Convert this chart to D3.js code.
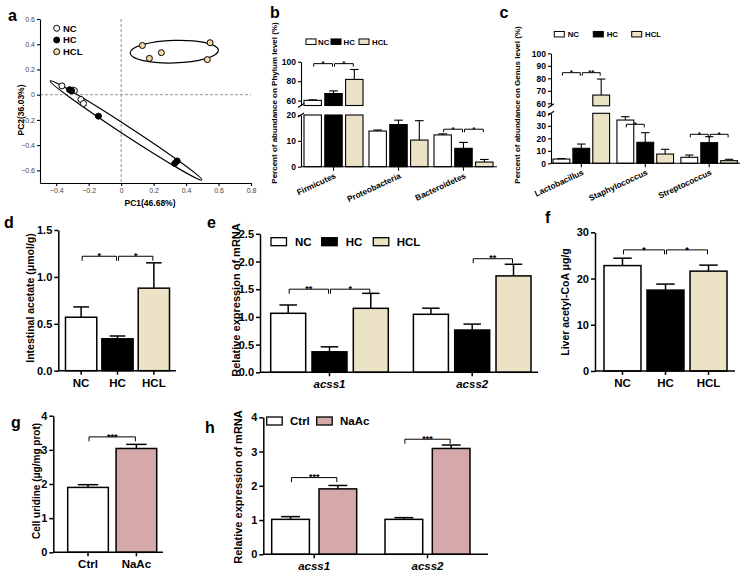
<!DOCTYPE html>
<html><head><meta charset="utf-8">
<script src="https://cdn.jsdelivr.net/npm/d3@7"></script>
<style>
body{margin:0;background:#fff;}
svg{display:block;}
</style></head><body>
<svg id="fig" width="746" height="575"></svg>
<script>
// ================= DATA =================
// Panel a (PCA)
const pcaXTicks = [-0.4, -0.2, 0, 0.2, 0.4, 0.6, 0.8];
const pcaYTicks = [-0.6, -0.4, -0.2, 0, 0.2, 0.4, 0.6];
const pcaNC  = [[-0.365, 0.07], [-0.298, 0.036], [-0.288, 0.032], [-0.248, -0.038], [-0.232, -0.07]];
const pcaHC  = [[-0.318, 0.04], [-0.305, 0.03], [-0.14, -0.17], [0.33, -0.545], [0.345, -0.525]];
const pcaHCL = [[0.131, 0.39], [0.248, 0.333], [0.174, 0.288], [0.548, 0.412], [0.531, 0.278]];
const ellipseNCHC = [[-0.437, 0.109], [0.497, -0.676]];
const ellipseHCL  = [[0.055, 0.33], [0.599, 0.352]];
const pcaLegend = ["NC", "HC", "HCL"];

// shared groups
const groups3 = ["NC", "HC", "HCL"];

// Panel b (phylum)
const phylumCats = ["Firmicutes", "Proteobacteria", "Bacteroidetes"];
const phylumNC = [60.3, 13.8, 12.3];
const phylumNCerr = [0.5, 0.4, 0.4];
const phylumHC = [67.3, 16.3, 7.1];
const phylumHCerr = [2.7, 1.7, 2.3];
const phylumHCL = [81.8, 10.3, 1.8];
const phylumHCLerr = [10.2, 7.5, 1.0];
const phylumTicksLow = [0, 10, 20];
const phylumTicksHigh = [60, 80, 100];

// Panel c (genus)
const genusCats = ["Lactobacillus", "Staphylococcus", "Streptococcus"];
const genusNC = [3.4, 34.6, 4.8];
const genusNCerr = [0.4, 2.7, 1.8];
const genusHC = [12.0, 16.8, 16.5];
const genusHCerr = [3.4, 7.7, 4.8];
const genusHCL = [66.6, 7.4, 2.1];
const genusHCLerr = [12.8, 3.8, 1.1];
const genusTicksLow = [0, 10, 20, 30, 40];
const genusTicksHigh = [60, 70, 80, 90, 100];

// Panel d (intestinal acetate)
const acetate = [0.57, 0.34, 0.88];
const acetateErr = [0.11, 0.03, 0.27];
const acetateTicks = [0, 0.5, 1.0, 1.5];

// Panel e (mRNA)
const geneCats = ["acss1", "acss2"];
const mrnaNC = [1.065, 1.047];
const mrnaNCerr = [0.15, 0.11];
const mrnaHC = [0.37, 0.763];
const mrnaHCerr = [0.09, 0.107];
const mrnaHCL = [1.155, 1.74];
const mrnaHCLerr = [0.27, 0.21];
const mrnaTicks = [0, 0.5, 1.0, 1.5, 2.0, 2.5];

// Panel f (liver acetyl-CoA)
const acetylCoA = [22.8, 17.5, 21.6];
const acetylCoAErr = [1.6, 1.3, 1.3];
const acetylCoATicks = [0, 10, 20, 30];

// Panel g (cell uridine)
const groups2 = ["Ctrl", "NaAc"];
const uridine = [1.9, 3.04];
const uridineErr = [0.08, 0.12];
const uridineTicks = [0, 1, 2, 3, 4];

// Panel h (mRNA, NaAc)
const hCtrl = [1.02, 1.02];
const hCtrlErr = [0.08, 0.05];
const hNaAc = [1.91, 3.09];
const hNaAcErr = [0.1, 0.1];
const hTicks = [0, 1, 2, 3, 4];

// significance
const sigB = [[0, "NC", "HC", 98, "*"], [0, "HC", "HCL", 98, "*"], [2, "NC", "HC", 14.5, "*"], [2, "HC", "HCL", 14.5, "*"]];
const sigC = [[0, "NC", "HC", 84.5, "*"], [0, "HC", "HCL", 84.5, "**"], [1, "NC", "HC", 43.2, "*"], [2, "NC", "HC", 23.2, "*"], [2, "HC", "HCL", 23.2, "*"]];
const sigD = [["NC", "HC", 1.22, "*"], ["HC", "HCL", 1.22, "*"]];
const sigE = [[0, "NC", "HC", 1.5, "**"], [0, "HC", "HCL", 1.5, "*"], [1, "HC", "HCL", 2.05, "**"]];
const sigF = [["NC", "HC", 26.2, "*"], ["HC", "HCL", 26.2, "*"]];
const sigG = [["Ctrl", "NaAc", 3.38, "***"]];
const sigH = [[0, "Ctrl", "NaAc", 2.24, "***"], [1, "Ctrl", "NaAc", 3.36, "***"]];

// ================= DRAWING =================
const FONT = 'Arial, "Liberation Sans", Helvetica, sans-serif';
const TAN = "#ece3c6", PINK = "#d5a9a9", HCLDOT = "#f4d9a6";
const fill3 = {NC: "#fff", HC: "#000", HCL: TAN};
const fill2 = {Ctrl: "#fff", NaAc: PINK};
const svg = d3.select("#fig").attr("font-family", FONT);

function styleAxis(ax, fs, weight, color, sw) {
  ax.attr("font-family", FONT).attr("font-size", fs);
  ax.select(".domain").attr("stroke", "#000").attr("stroke-width", sw || 1.3);
  ax.selectAll(".tick line").attr("stroke", "#000").attr("stroke-width", sw || 1.3);
  ax.selectAll(".tick text").attr("fill", color || "#000").attr("font-weight", weight || "bold");
}
function letter(t, x, y) {
  svg.append("text").attr("x", x).attr("y", y).text(t).attr("fill", "#000")
    .attr("font-size", 16).attr("font-weight", "bold");
}
function yLabel(t, x, y, fs) {
  svg.append("text").attr("transform", `translate(${x},${y}) rotate(-90)`).attr("fill", "#000")
    .attr("text-anchor", "middle").attr("font-size", fs).attr("font-weight", "bold").text(t);
}
function bracket(g, x1, x2, y, label, tick, fs) {
  g.append("path").attr("d", `M${x1},${y + tick}V${y}H${x2}V${y + tick}`)
    .attr("fill", "none").attr("stroke", "#000").attr("stroke-width", 1);
  g.append("text").attr("x", (x1 + x2) / 2).attr("y", y + fs * 0.3).attr("text-anchor", "middle")
    .attr("fill", "#000").attr("font-weight", "bold").attr("font-size", fs).text(label);
}
// Y is {low, lowMax, high, highMin}
function yOf(Y, v) { return (Y.high && v > Y.lowMax) ? Y.high(v) : Y.low(v); }
function drawBar(g, cx, w, v, e, fill, Y, sw, capW) {
  const x = cx - w / 2;
  if (Y.high && v > Y.lowMax) {
    g.append("rect").attr("x", x).attr("y", Y.low(Y.lowMax)).attr("width", w)
      .attr("height", Y.low(0) - Y.low(Y.lowMax)).attr("fill", fill).attr("stroke", "#000").attr("stroke-width", sw);
    g.append("rect").attr("x", x).attr("y", Y.high(v)).attr("width", w)
      .attr("height", Y.high(Y.highMin) - Y.high(v)).attr("fill", fill).attr("stroke", "#000").attr("stroke-width", sw);
  } else {
    g.append("rect").attr("x", x).attr("y", Y.low(v)).attr("width", w)
      .attr("height", Y.low(0) - Y.low(v)).attr("fill", fill).attr("stroke", "#000").attr("stroke-width", sw);
  }
  const yt = yOf(Y, v), ye = yOf(Y, v + e);
  g.append("line").attr("x1", cx).attr("x2", cx).attr("y1", yt).attr("y2", ye).attr("stroke", "#000").attr("stroke-width", sw);
  g.append("line").attr("x1", cx - capW / 2).attr("x2", cx + capW / 2).attr("y1", ye).attr("y2", ye).attr("stroke", "#000").attr("stroke-width", sw);
}
function xAxisLine(g, x1, x2, y, ticksX, sw) {
  g.append("line").attr("x1", x1).attr("x2", x2).attr("y1", y).attr("y2", y).attr("stroke", "#000").attr("stroke-width", sw);
  ticksX.forEach(tx => g.append("line").attr("x1", tx).attr("x2", tx).attr("y1", y).attr("y2", y + 4).attr("stroke", "#000").attr("stroke-width", sw));
}
function legendRects(g, items, fills, xs, txs, y, w, h, fs, sw) {
  items.forEach((it, i) => {
    g.append("rect").attr("x", xs[i]).attr("y", y - h / 2).attr("width", w).attr("height", h)
      .attr("fill", fills[it]).attr("stroke", "#000").attr("stroke-width", sw);
    g.append("text").attr("x", txs[i]).attr("y", y + fs * 0.36).attr("fill", "#000")
      .attr("font-size", fs).attr("font-weight", "bold").text(it);
  });
}

// ---------- Panel a ----------
(function () {
  const g = svg.append("g");
  const x = d3.scaleLinear().domain([-0.5, 0.8]).range([40, 251]);
  const y = d3.scaleLinear().domain([-0.7, 0.6]).range([183, 19]);
  const fmt = d => d === 0 ? "0" : d3.format(".1f")(d);
  g.append("line").attr("x1", x(0)).attr("x2", x(0)).attr("y1", y(0.6)).attr("y2", y(-0.7))
    .attr("stroke", "#888").attr("stroke-dasharray", "3,2").attr("stroke-width", 0.9);
  g.append("line").attr("x1", x(-0.5)).attr("x2", x(0.8)).attr("y1", y(0)).attr("y2", y(0))
    .attr("stroke", "#888").attr("stroke-dasharray", "3,2").attr("stroke-width", 0.9);
  const axl = g.append("g").attr("transform", `translate(${x(-0.5)},0)`)
    .call(d3.axisLeft(y).tickValues(pcaYTicks).tickFormat(fmt).tickSize(3).tickSizeOuter(0).tickPadding(2));
  styleAxis(axl, 7, "normal", "#444", 1.1);
  const axb = g.append("g").attr("transform", `translate(0,${y(-0.7)})`)
    .call(d3.axisBottom(x).tickValues(pcaXTicks).tickFormat(fmt).tickSize(3).tickSizeOuter(0).tickPadding(2));
  styleAxis(axb, 7, "normal", "#444", 1.1);
  function ell(ends, minorPx) {
    const p1 = [x(ends[0][0]), y(ends[0][1])], p2 = [x(ends[1][0]), y(ends[1][1])];
    const cx = (p1[0] + p2[0]) / 2, cy = (p1[1] + p2[1]) / 2;
    const a = Math.hypot(p2[0] - p1[0], p2[1] - p1[1]) / 2;
    const ang = Math.atan2(p2[1] - p1[1], p2[0] - p1[0]) * 180 / Math.PI;
    g.append("ellipse").attr("cx", 0).attr("cy", 0).attr("rx", a).attr("ry", minorPx)
      .attr("transform", `translate(${cx},${cy}) rotate(${ang})`)
      .attr("fill", "none").attr("stroke", "#000").attr("stroke-width", 1.2);
  }
  ell(ellipseNCHC, 4.5);
  ell(ellipseHCL, 11.3);
  const pts = (arr, fill) => g.selectAll(null).data(arr).enter().append("circle")
    .attr("cx", d => x(d[0])).attr("cy", d => y(d[1])).attr("r", 3)
    .attr("fill", fill).attr("stroke", "#000").attr("stroke-width", 1);
  pts(pcaNC, "#fff"); pts(pcaHC, "#000"); pts(pcaHCL, HCLDOT);
  const lf = {NC: "#fff", HC: "#000", HCL: HCLDOT};
  pcaLegend.forEach((k, i) => {
    const ly = 28.3 + i * 11.7;
    g.append("circle").attr("cx", 56.7).attr("cy", ly).attr("r", 3).attr("fill", lf[k]).attr("stroke", "#000");
    g.append("text").attr("x", 63).attr("y", ly + 3.4).attr("fill", "#000").attr("font-size", 9.5).attr("font-weight", "bold").text(k);
  });
  g.append("text").attr("x", 150).attr("y", 206).attr("text-anchor", "middle").attr("fill", "#000")
    .attr("font-size", 8.5).attr("font-weight", "bold").text("PC1(46.68%)");
  yLabel("PC2(36.03%)", 24, 110, 8.5);
  letter("a", 8, 20.7);
})();

// ---------- broken-axis grouped panels (b, c) ----------
function brokenPanel(o) {
  const g = svg.append("g");
  const Y = {low: d3.scaleLinear().domain([0, o.lowMax]).range(o.lowRange),
             high: d3.scaleLinear().domain([o.highMin, 100]).range(o.highRange),
             lowMax: o.lowMax, highMin: o.highMin};
  const axl = g.append("g").attr("transform", `translate(${o.axisX},0)`)
    .call(d3.axisLeft(Y.low).tickValues(o.ticksLow).tickSize(3).tickSizeOuter(0).tickPadding(2));
  styleAxis(axl, 8.5, "bold", "#000", 1.1);
  const axh = g.append("g").attr("transform", `translate(${o.axisX},0)`)
    .call(d3.axisLeft(Y.high).tickValues(o.ticksHigh).tickSize(3).tickSizeOuter(0).tickPadding(2));
  styleAxis(axh, 8.5, "bold", "#000", 1.1);
  [Y.low(o.lowMax), Y.high(o.highMin)].forEach(by => {
    g.append("line").attr("x1", o.axisX - 3).attr("x2", o.axisX + 3).attr("y1", by + 2).attr("y2", by - 2)
      .attr("stroke", "#000").attr("stroke-width", 1.1);
  });
  const x0 = d3.scaleBand().domain(o.cats).range(o.groupRange).paddingInner(o.padG);
  const x1 = d3.scaleBand().domain(groups3).range([0, x0.bandwidth()]).paddingInner(o.padB);
  const cx = (ci, s) => x0(o.cats[ci]) + x1(s) + x1.bandwidth() / 2;
  groups3.forEach((s, si) => {
    o.cats.forEach((c, ci) => {
      drawBar(g, cx(ci, s), x1.bandwidth(), o.vals[si][ci], o.errs[si][ci], fill3[s], Y, 1.1, x1.bandwidth() * 0.5);
    });
  });
  const y0 = Y.low(0);
  xAxisLine(g, o.axisX, o.axisEnd, y0, o.cats.map(c => x0(c) + x0.bandwidth() / 2), 1.1);
  o.cats.forEach(c => {
    const tx = x0(c) + x0.bandwidth() / 2 + 3, ty = y0 + 11;
    g.append("text").attr("transform", `translate(${tx},${ty}) rotate(-25)`).attr("text-anchor", "end")
      .attr("fill", "#000").attr("font-size", 8.3).attr("font-weight", "bold").text(c);
  });
  o.sig.forEach(s => {
    bracket(g, cx(s[0], s[1]) + 1, cx(s[0], s[2]) - 1, yOf(Y, s[3]), s[4], 3, 8);
  });
  legendRects(g, groups3, fill3, o.legX, o.legTX, o.legY, 10, 5.5, 7.8, 1);
  yLabel(o.ylab, o.ylabX, o.ylabY, 8);
  letter(o.letter, o.letterX, o.letterY);
}
brokenPanel({
  cats: phylumCats, vals: [phylumNC, phylumHC, phylumHCL], errs: [phylumNCerr, phylumHCerr, phylumHCLerr],
  lowMax: 20, highMin: 55, lowRange: [166.7, 115], highRange: [105.5, 61.7],
  ticksLow: phylumTicksLow, ticksHigh: phylumTicksHigh, axisX: 301, axisEnd: 497,
  groupRange: [304, 493], padG: 0.092, padB: 0.163, sig: sigB,
  legX: [306, 331, 359], legTX: [318, 343.5, 372], legY: 41.7,
  ylab: "Percent of abundance on Phylum level (%)", ylabX: 276.5, ylabY: 103,
  letter: "b", letterX: 270, letterY: 17.5
});
brokenPanel({
  cats: genusCats, vals: [genusNC, genusHC, genusHCL], errs: [genusNCerr, genusHCerr, genusHCLerr],
  lowMax: 40, highMin: 58, lowRange: [163.3, 113.3], highRange: [105.8, 53.3],
  ticksLow: genusTicksLow, ticksHigh: genusTicksHigh, axisX: 551, axisEnd: 740,
  groupRange: [553, 737.5], padG: 0.115, padB: 0.155, sig: sigC,
  legX: [554.3, 593.3, 631.7], legTX: [567.7, 606.7, 645], legY: 34.2,
  ylab: "Percent of abundance on Genus level (%)", ylabX: 519.5, ylabY: 105,
  letter: "c", letterX: 499.5, letterY: 18.3
});

// ---------- simple (single-series) panels d, f, g ----------
function simplePanel(o) {
  const g = svg.append("g");
  const Y = {low: d3.scaleLinear().domain(o.domain).range(o.yRange)};
  const axl = g.append("g").attr("transform", `translate(${o.axisX},0)`)
    .call(d3.axisLeft(Y.low).tickValues(o.ticks).tickFormat(o.fmt).tickSize(4).tickSizeOuter(0).tickPadding(2));
  styleAxis(axl, 11, "bold", "#000", 1.5);
  const x = d3.scaleBand().domain(o.cats).range(o.barRange).paddingInner(o.pad);
  const cx = c => x(c) + x.bandwidth() / 2;
  o.cats.forEach((c, i) => drawBar(g, cx(c), x.bandwidth(), o.vals[i], o.errs[i], o.fills[c], Y, 1.5, x.bandwidth() * 0.5));
  const y0 = Y.low(0);
  xAxisLine(g, o.axisX, o.axisEnd, y0, o.cats.map(cx), 1.5);
  o.cats.forEach(c => g.append("text").attr("x", cx(c)).attr("y", y0 + 16).attr("text-anchor", "middle")
    .attr("fill", "#000").attr("font-size", 11.5).attr("font-weight", "bold").text(c));
  o.sig.forEach(s => bracket(g, cx(s[0]) + 1, cx(s[1]) - 1, Y.low(s[2]), s[3], 4.5, 9));
  yLabel(o.ylab, o.ylabX, o.ylabY, o.ylabFs);
  letter(o.letter, o.letterX, o.letterY);
}
simplePanel({
  cats: groups3, vals: acetate, errs: acetateErr, fills: fill3, domain: [0, 1.5], yRange: [370.7, 230],
  ticks: acetateTicks, fmt: d3.format(".1f"), axisX: 58.3, axisEnd: 176, barRange: [65.5, 169.5], pad: 0.14,
  sig: sigD, ylab: "Intestinal acetate (μmol/g)", ylabX: 34, ylabY: 298, ylabFs: 10.5,
  letter: "d", letterX: 4, letterY: 228.3
});
simplePanel({
  cats: groups3, vals: acetylCoA, errs: acetylCoAErr, fills: fill3, domain: [0, 30], yRange: [371, 232.3],
  ticks: acetylCoATicks, fmt: d3.format("d"), axisX: 595, axisEnd: 735, barRange: [604, 727], pad: 0.14,
  sig: sigF, ylab: "Liver acetyl-CoA μg/g", ylabX: 569, ylabY: 302, ylabFs: 10.5,
  letter: "f", letterX: 545, letterY: 223.3
});
simplePanel({
  cats: groups2, vals: uridine, errs: uridineErr, fills: fill2, domain: [0, 4], yRange: [552.3, 415.7],
  ticks: uridineTicks, fmt: d3.format("d"), axisX: 53.3, axisEnd: 163, barRange: [67.7, 156.7], pad: 0.16,
  sig: sigG, ylab: "Cell uridine (μg/mg prot)", ylabX: 40, ylabY: 481, ylabFs: 10,
  letter: "g", letterX: 11, letterY: 428
});

// ---------- grouped panels e, h ----------
function groupedPanel(o) {
  const g = svg.append("g");
  const Y = {low: d3.scaleLinear().domain(o.domain).range(o.yRange)};
  const axl = g.append("g").attr("transform", `translate(${o.axisX},0)`)
    .call(d3.axisLeft(Y.low).tickValues(o.ticks).tickFormat(o.fmt).tickSize(4).tickSizeOuter(0).tickPadding(2));
  styleAxis(axl, 11, "bold", "#000", 1.5);
  const x0 = d3.scaleBand().domain(o.cats).range(o.groupRange).paddingInner(o.padG);
  const x1 = d3.scaleBand().domain(o.series).range([0, x0.bandwidth()]).paddingInner(o.padB);
  const cx = (ci, s) => x0(o.cats[ci]) + x1(s) + x1.bandwidth() / 2;
  o.series.forEach((s, si) => o.cats.forEach((c, ci) =>
    drawBar(g, cx(ci, s), x1.bandwidth(), o.vals[si][ci], o.errs[si][ci], o.fills[s], Y, 1.5, x1.bandwidth() * 0.5)));
  const y0 = Y.low(0);
  xAxisLine(g, o.axisX, o.axisEnd, y0, o.cats.map(c => x0(c) + x0.bandwidth() / 2), 1.5);
  o.cats.forEach(c => g.append("text").attr("x", x0(c) + x0.bandwidth() / 2).attr("y", y0 + 16).attr("text-anchor", "middle")
    .attr("fill", "#000").attr("font-size", 11.5).attr("font-weight", "bold").attr("font-style", "italic").text(c));
  o.sig.forEach(s => bracket(g, cx(s[0], s[1]) + 1, cx(s[0], s[2]) - 1, Y.low(s[3]), s[4], 4.5, 9));
  legendRects(g, o.series, o.fills, o.legX, o.legTX, o.legY, 15.5, 8, 11.5, 1.3);
  yLabel(o.ylab, o.ylabX, o.ylabY, 11);
  letter(o.letter, o.letterX, o.letterY);
}
groupedPanel({
  cats: geneCats, series: groups3, vals: [mrnaNC, mrnaHC, mrnaHCL], errs: [mrnaNCerr, mrnaHCerr, mrnaHCLerr],
  fills: fill3, domain: [0, 2.5], yRange: [372.3, 233.8], ticks: mrnaTicks, fmt: d3.format(".1f"),
  axisX: 260, axisEnd: 538, groupRange: [270.7, 531], padG: 0.176, padB: 0.153, sig: sigE,
  legX: [271, 321.7, 373.3], legTX: [295, 345.7, 396.7], legY: 241.7,
  ylab: "Relative expression of mRNA", ylabX: 240, ylabY: 300, letter: "e", letterX: 207, letterY: 228
});
groupedPanel({
  cats: geneCats, series: groups2, vals: [hCtrl, hNaAc], errs: [hCtrlErr, hNaAcErr],
  fills: fill2, domain: [0, 4], yRange: [554.3, 417.3], ticks: hTicks, fmt: d3.format("d"),
  axisX: 263.3, axisEnd: 488, groupRange: [271.7, 470], padG: 0.25, padB: 0.203, sig: sigH,
  legX: [266.7, 316.7], legTX: [290, 340], legY: 421,
  ylab: "Relative expression of mRNA", ylabX: 242, ylabY: 487, letter: "h", letterX: 205, letterY: 433.3
});
</script>
</body></html>
